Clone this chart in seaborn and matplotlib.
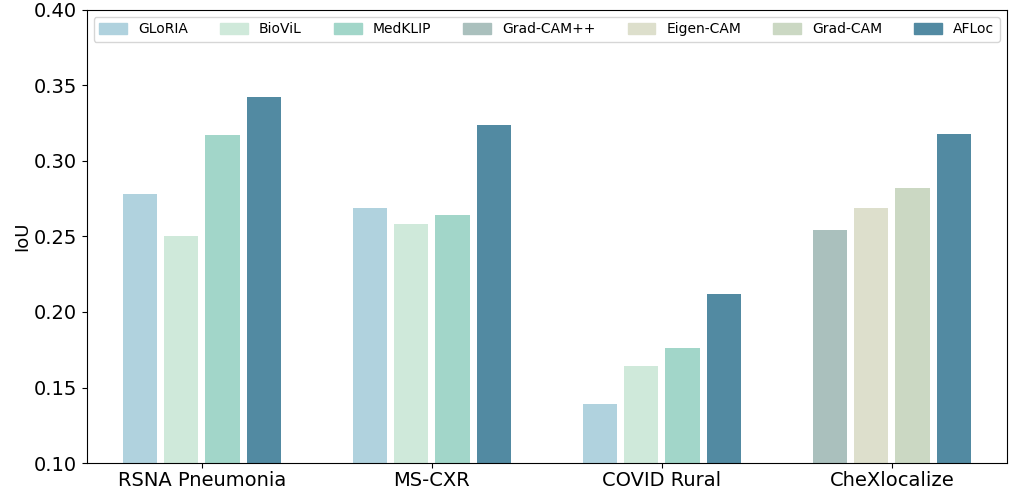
import matplotlib
matplotlib.use("Agg")
import matplotlib.pyplot as plt
import matplotlib.patches as mpatches
import pandas as pd
import seaborn as sns

datasets = ["RSNA Pneumonia", "MS-CXR", "COVID Rural", "CheXlocalize"]
methods = ["GLoRIA", "BioViL", "MedKLIP", "Grad-CAM++", "Eigen-CAM", "Grad-CAM", "AFLoc"]
colors = ["#b0d2de", "#cfe9da", "#a2d6c9", "#aac0bd", "#dddfcc", "#cbd8c3", "#528aa2"]

# methods shown per dataset (four bars per group) and their IoU values
group_methods = [
    ["GLoRIA", "BioViL", "MedKLIP", "AFLoc"],
    ["GLoRIA", "BioViL", "MedKLIP", "AFLoc"],
    ["GLoRIA", "BioViL", "MedKLIP", "AFLoc"],
    ["Grad-CAM++", "Eigen-CAM", "Grad-CAM", "AFLoc"],
]
group_iou = [
    [0.278, 0.250, 0.317, 0.342],
    [0.269, 0.258, 0.264, 0.324],
    [0.139, 0.164, 0.176, 0.212],
    [0.254, 0.269, 0.282, 0.318],
]

rows = []
for ds, ms, vals in zip(datasets, group_methods, group_iou):
    for slot, (m, v) in enumerate(zip(ms, vals)):
        rows.append({"Dataset": ds, "slot": slot, "Method": m, "IoU": v})
df = pd.DataFrame(rows)

color_of = dict(zip(methods, colors))

fig, ax = plt.subplots(figsize=(10.09, 4.9), dpi=100)
sns.barplot(data=df, x="Dataset", y="IoU", hue="slot", order=datasets,
            width=0.72, gap=0.17, palette=["#999999"] * 4, legend=False, ax=ax)

# recolour every bar by its method
for cont, slot in zip(ax.containers, range(4)):
    sub = df[df["slot"] == slot].set_index("Dataset").loc[datasets]
    for bar, m in zip(cont, sub["Method"]):
        bar.set_facecolor(color_of[m])
        bar.set_edgecolor("none")

ax.set_ylim(0.10, 0.40)
ax.set_xlim(-0.5, 3.5)
ax.set_xlabel("")
ax.set_ylabel("IoU", fontsize=13, labelpad=2)
ax.tick_params(axis="both", labelsize=14)
ax.tick_params(axis="x", pad=2)
ax.set_yticks([0.10, 0.15, 0.20, 0.25, 0.30, 0.35, 0.40])
ax.set_yticklabels([f"{t:.2f}" for t in ax.get_yticks()])

handles = [mpatches.Patch(color=c, label=m) for m, c in zip(methods, colors)]
ax.legend(handles=handles, ncol=7, loc="upper left", bbox_to_anchor=(0, 0, 1, 1),
          mode="expand", fontsize=10, frameon=True, edgecolor="#cccccc",
          handleheight=0.9)

fig.subplots_adjust(left=0.086, right=0.998, top=0.98, bottom=0.055)
fig.savefig("out.png", dpi=100)
